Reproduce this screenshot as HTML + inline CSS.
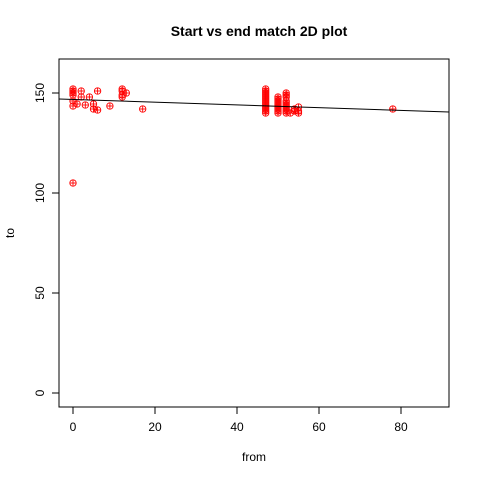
<!DOCTYPE html>
<html><head><meta charset="utf-8"><style>
body{margin:0;background:#fff}
text{font-family:"Liberation Sans",sans-serif}
</style></head><body>
<svg id="chart" width="480" height="480">
<text x="259" y="36" text-anchor="middle" font-size="14" font-weight="bold">Start vs end match 2D plot</text>
<rect x="59" y="59" width="390" height="348" fill="none" stroke="#000"/>
<g id="xaxis"></g>
<g id="yaxis"></g>
<text x="254" y="461" text-anchor="middle" font-size="12">from</text>
<text transform="translate(14,233) rotate(-90)" text-anchor="middle" font-size="12">to</text>
<g id="pts"></g>
<line id="fit" stroke="#000"/>
</svg>
<script>
const xTicks=[0,20,40,60,80];
const yTicks=[0,50,100,150];
const fromVals=[0,0,0,0,0,0,1,2,2,3,4,5,5,6,6,9,12,12,12,12,13,17,0,
47,47,47,47,47,47,47,47,47,47,47,47,47,50,50,50,50,50,50,50,50,50,52,52,52,52,52,52,52,52,52,52,53,54,54,55,55,55,78];
const toVals=[150,151,152,149,146,143.5,144.5,151,148,144,148,144.5,142,151,141.5,143.5,151,152,149,148,150,142,105,
140,141,142,143,144,145,146,147,148,149,150,151,152,140,141,142,143,144,145,146,147,148,140,141,142,143,144,145,146,148,149,150,140,141,142,140,141,143,142];
const fitIntercept=[146.77];
const fitSlope=[-0.0684];
const sx=v=>73+v*4.1, sy=v=>393-v*2;
const NS="http://www.w3.org/2000/svg";
function mk(t,a,p){const e=document.createElementNS(NS,t);for(const k in a)e.setAttribute(k,a[k]);p.appendChild(e);return e;}
const xa=document.getElementById('xaxis'),ya=document.getElementById('yaxis');
mk('line',{x1:sx(xTicks[0]),x2:sx(xTicks[xTicks.length-1]),y1:407,y2:407,stroke:'#000'},xa);
xTicks.forEach(t=>{mk('line',{x1:sx(t),x2:sx(t),y1:407,y2:414,stroke:'#000'},xa);
const l=mk('text',{x:sx(t),y:431,'text-anchor':'middle','font-size':12},xa);l.textContent=t;

});
mk('line',{x1:59,x2:59,y1:sy(yTicks[0]),y2:sy(yTicks[yTicks.length-1]),stroke:'#000'},ya);
yTicks.forEach(t=>{mk('line',{x1:52,x2:59,y1:sy(t),y2:sy(t),stroke:'#000'},ya);
const l=mk('text',{transform:`translate(44,${sy(t)}) rotate(-90)`,'text-anchor':'middle','font-size':12},ya);l.textContent=t;

});
const pg=document.getElementById('pts');
fromVals.forEach((x,i)=>{const g=mk('g',{stroke:'#f00',fill:'none','stroke-width':0.9},pg);


const cx=sx(x),cy=sy(toVals[i]);
mk('circle',{cx,cy,r:3.2},g);mk('line',{x1:cx-3.2,x2:cx+3.2,y1:cy,y2:cy},g);mk('line',{x1:cx,x2:cx,y1:cy-3.2,y2:cy+3.2},g);});
const a=fitIntercept[0],b=fitSlope[0];
const x0=(59-73)/4.1,x1=(449-73)/4.1;
const f=document.getElementById('fit');
f.setAttribute('x1',59);f.setAttribute('x2',449);f.setAttribute('y1',sy(a+b*x0));f.setAttribute('y2',sy(a+b*x1));
</script>
</body></html>
